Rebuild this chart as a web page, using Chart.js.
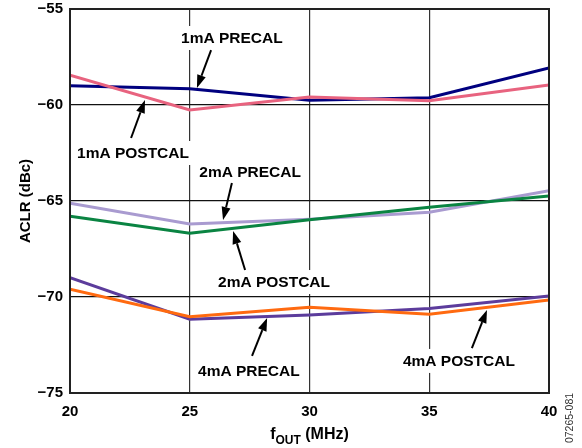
<!DOCTYPE html>
<html>
<head>
<meta charset="utf-8">
<script src="https://cdn.jsdelivr.net/npm/chart.js@4/dist/chart.umd.min.js"></script>
<style>
  html, body { margin: 0; padding: 0; background: #fff; }
  #wrap { width: 582px; height: 448px; position: relative; }
</style>
</head>
<body>
<div id="wrap"><canvas id="c" width="582" height="448"></canvas></div>
<script>
// ---- data ----
const freqMHz = [20, 25, 30, 35, 40];
const pre1mA  = [-59.0, -59.15, -59.75, -59.62, -58.07];
const post1mA = [-58.45, -60.26, -59.58, -59.78, -58.96];
const pre2mA  = [-65.12, -66.2, -65.95, -65.58, -64.46];
const post2mA = [-65.8, -66.68, -65.98, -65.33, -64.74];
const pre4mA  = [-68.99, -71.16, -70.94, -70.6, -69.95];
const post4mA = [-69.6, -71.03, -70.54, -70.9, -70.16];
const xTicks = [20, 25, 30, 35, 40];
const yTicks = [-75, -70, -65, -60, -55];
const seriesNames = ['1mA PRECAL', '1mA POSTCAL', '2mA PRECAL', '2mA POSTCAL', '4mA PRECAL', '4mA POSTCAL'];
const seriesColors = ['#00007f', '#e8637f', '#a99bd0', '#0a8442', '#5c3c9c', '#ff6a10'];

// callouts: text position and arrow (tail -> tip), data coordinates
const callouts = [
  { text: '1mA PRECAL',  tx: 26.76, ty: -56.51, ax0: 25.89, ay0: -57.14, ax1: 25.30, ay1: -59.11 },
  { text: '1mA POSTCAL', tx: 22.63, ty: -62.50, ax0: 22.55, ay0: -61.72, ax1: 23.13, ay1: -59.74 },
  { text: '2mA PRECAL',  tx: 27.52, ty: -63.49, ax0: 26.76, ay0: -64.06, ax1: 26.39, ay1: -65.99 },
  { text: '2mA POSTCAL', tx: 28.52, ty: -69.22, ax0: 27.31, ay0: -68.59, ax1: 26.81, ay1: -66.56 },
  { text: '4mA PRECAL',  tx: 27.47, ty: -73.85, ax0: 27.60, ay0: -73.07, ax1: 28.23, ay1: -71.09 },
  { text: '4mA POSTCAL', tx: 36.24, ty: -73.33, ax0: 36.78, ay0: -72.66, ax1: 37.41, ay1: -70.68 }
];

const FONT = "'Liberation Sans', Arial, Helvetica, sans-serif";
const allSeries = [pre1mA, post1mA, pre2mA, post2mA, pre4mA, post4mA];
const datasets = allSeries.map((vals, i) => ({
  label: seriesNames[i],
  data: freqMHz.map((f, j) => ({ x: f, y: vals[j] })),
  borderColor: seriesColors[i],
  backgroundColor: seriesColors[i],
  borderWidth: 3,
  pointRadius: 0,
  tension: 0,
  fill: false
}));
datasets.forEach((d, i) => { d.order = [5, 4, 3, 2, 1, 0][i]; });

const overlay = {
  id: 'overlay',
  afterDatasetsDraw(chart) {
    const ctx = chart.ctx;
    const xs = chart.scales.x, ys = chart.scales.y;
    const a = chart.chartArea;
    ctx.save();
    ctx.strokeStyle = '#222';
    ctx.lineWidth = 2;
    ctx.strokeRect(a.left, a.top, a.right - a.left, a.bottom - a.top);
    ctx.font = 'bold 15.5px ' + FONT;
    ctx.textAlign = 'center';
    ctx.textBaseline = 'middle';
    callouts.forEach(c => {
      const px = xs.getPixelForValue(c.tx), py = ys.getPixelForValue(c.ty);
      const w = ctx.measureText(c.text).width;
      ctx.fillStyle = '#fff';
      ctx.fillRect(px - w / 2 - 5, py - 12, w + 10, 24);
      ctx.fillStyle = '#000';
      ctx.fillText(c.text, px, py + 1);
      const x0 = xs.getPixelForValue(c.ax0), y0 = ys.getPixelForValue(c.ay0);
      const x1 = xs.getPixelForValue(c.ax1), y1 = ys.getPixelForValue(c.ay1);
      const ang = Math.atan2(y1 - y0, x1 - x0);
      const hl = 13, hw = 4.5;
      const bx = x1 - hl * Math.cos(ang), by = y1 - hl * Math.sin(ang);
      ctx.strokeStyle = '#000';
      ctx.lineWidth = 2;
      ctx.beginPath();
      ctx.moveTo(x0, y0);
      ctx.lineTo(bx, by);
      ctx.stroke();
      ctx.fillStyle = '#000';
      ctx.beginPath();
      ctx.moveTo(x1, y1);
      ctx.lineTo(bx + hw * Math.sin(ang), by - hw * Math.cos(ang));
      ctx.lineTo(bx - hw * Math.sin(ang), by + hw * Math.cos(ang));
      ctx.closePath();
      ctx.fill();
    });
    ctx.save();
    ctx.translate(26, (a.top + a.bottom) / 2);
    ctx.rotate(-Math.PI / 2);
    ctx.font = 'bold 15px ' + FONT;
    ctx.fillStyle = '#000';
    ctx.textAlign = 'center';
    ctx.textBaseline = 'middle';
    ctx.fillText('ACLR (dBc)', 0, 0);
    ctx.restore();
    const big = 'bold 16px ' + FONT, small = 'bold 12px ' + FONT;
    ctx.font = big; const wf = ctx.measureText('f').width;
    ctx.font = small; const ws = ctx.measureText('OUT').width;
    ctx.font = big; const wr = ctx.measureText(' (MHz)').width;
    let sx = (a.left + a.right) / 2 - (wf + ws + wr) / 2;
    const base = 439;
    ctx.fillStyle = '#000';
    ctx.textAlign = 'left';
    ctx.textBaseline = 'alphabetic';
    ctx.font = big; ctx.fillText('f', sx, base); sx += wf;
    ctx.font = small; ctx.fillText('OUT', sx, base + 5); sx += ws;
    ctx.font = big; ctx.fillText(' (MHz)', sx, base);
    ctx.save();
    ctx.translate(570, 418);
    ctx.rotate(-Math.PI / 2);
    ctx.font = '10.5px ' + FONT;
    ctx.fillStyle = '#333';
    ctx.textAlign = 'center';
    ctx.textBaseline = 'middle';
    ctx.fillText('07265-081', 0, 0);
    ctx.restore();
    ctx.restore();
  }
};

new Chart(document.getElementById('c'), {
  type: 'line',
  data: { datasets },
  plugins: [overlay],
  options: {
    responsive: false,
    animation: false,
    devicePixelRatio: 1,
    layout: { padding: { top: 9, right: 33, left: 0, bottom: 0 } },
    plugins: { legend: { display: false }, tooltip: { enabled: false } },
    scales: {
      x: {
        type: 'linear', min: 20, max: 40,
        afterFit(s) { s.height = 55; s.paddingLeft = 0; s.paddingRight = 0; },
        afterBuildTicks(s) { s.ticks = xTicks.map(v => ({ value: v })); },
        grid: { color: '#333', lineWidth: 1.2, drawTicks: false },
        border: { display: false },
        ticks: { padding: 10, color: '#000', font: { family: FONT, size: 15, weight: 'bold' }, maxRotation: 0 }
      },
      y: {
        type: 'linear', min: -75, max: -55,
        afterFit(s) { s.width = 70; s.paddingTop = 0; s.paddingBottom = 0; },
        afterBuildTicks(s) { s.ticks = yTicks.map(v => ({ value: v })); },
        grid: { color: '#111', lineWidth: 1.2, drawTicks: false },
        border: { display: false },
        ticks: {
          padding: 7, color: '#000', font: { family: FONT, size: 15, weight: 'bold' },
          callback: v => String(v).replace('-', '\u2212')
        }
      }
    }
  }
});
</script>
</body>
</html>
